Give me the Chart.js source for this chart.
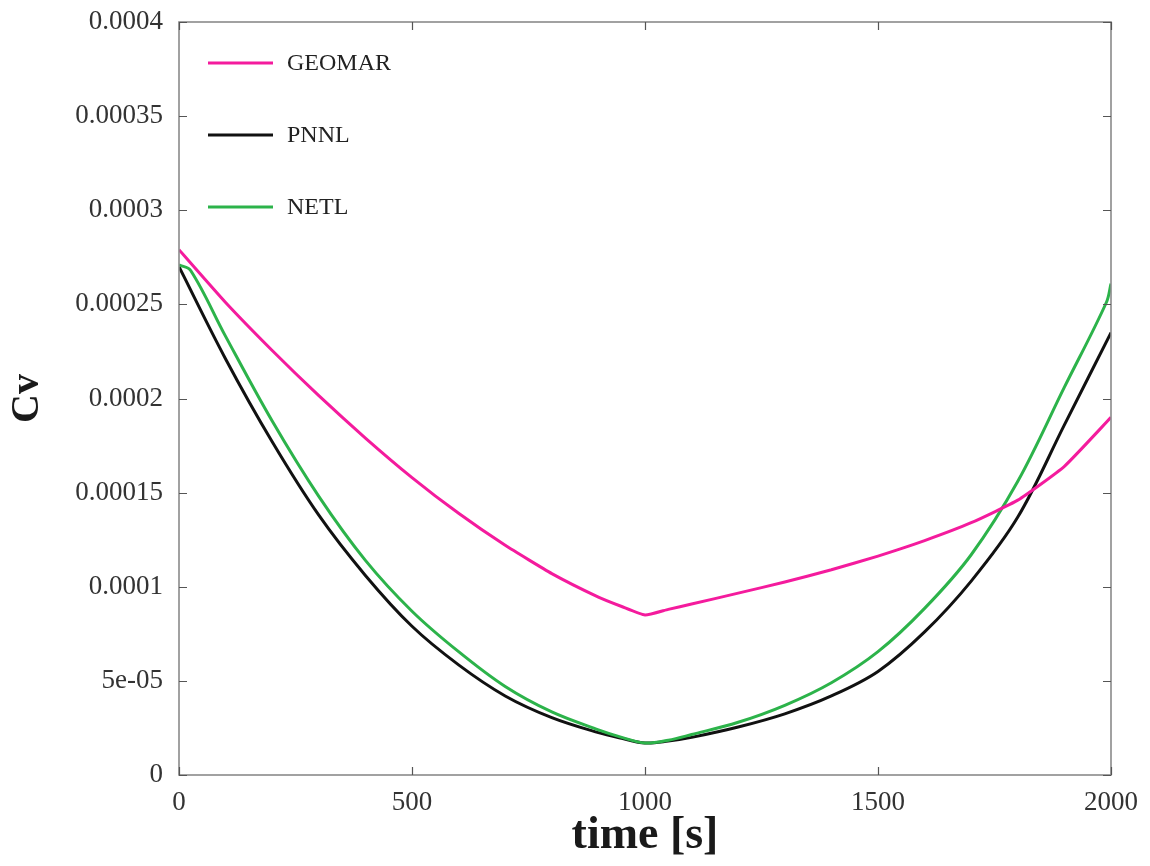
<!DOCTYPE html>
<html>
<head>
<meta charset="utf-8">
<script src="https://cdn.jsdelivr.net/npm/chart.js@4"></script>
<style>
  body { margin: 0; background: #fff; }
</style>
</head>
<body>
<canvas id="cvChart" width="1150" height="866"></canvas>
<script>
// time axis [s]
const time = [0, 100, 200, 300, 400, 500, 600, 700, 800, 900, 950, 1000, 1050, 1100, 1200, 1300, 1400, 1500, 1600, 1700, 1800, 1900, 2000];
const timeNetl = [0, 25, 100, 200, 300, 400, 500, 600, 700, 800, 900, 950, 1000, 1050, 1100, 1200, 1300, 1400, 1500, 1600, 1700, 1800, 1900, 1990, 2000];

// Cv per group
const geomar = [0.000279, 0.000251, 0.0002255, 0.0002015, 0.000179, 0.000158, 0.000139, 0.000122, 0.000107, 0.0000945, 0.0000895, 0.000085,
                0.000088, 0.0000908, 0.0000966, 0.0001025, 0.000109, 0.0001163, 0.0001245, 0.000134, 0.000146, 0.000164, 0.000190];
const pnnl = [0.000270, 0.000221, 0.000177, 0.000138, 0.000106, 0.000079, 0.0000585, 0.000042, 0.0000305, 0.0000225, 0.0000195, 0.000017,
              0.000018, 0.000020, 0.0000255, 0.0000325, 0.000042, 0.000055, 0.000076, 0.000103, 0.000137, 0.000186, 0.000235];
const netl = [0.000271, 0.000268, 0.000233, 0.000188, 0.000148, 0.000114, 0.000087, 0.0000655, 0.000047, 0.0000335, 0.000024, 0.000020, 0.000017,
              0.0000185, 0.0000215, 0.000028, 0.000037, 0.000049, 0.0000655, 0.0000885, 0.000117, 0.000156, 0.000206, 0.000251, 0.000261];

const seriesNames = ['GEOMAR', 'PNNL', 'NETL'];
const seriesColors = ['#f41b9d', '#111111', '#2cb34a'];
const yTickLabels = ['0', '5e-05', '0.0001', '0.00015', '0.0002', '0.00025', '0.0003', '0.00035', '0.0004'];

const serif = '"Liberation Serif", "DejaVu Serif", serif';

const toPoints = (xs, ys) => xs.map((t, i) => ({ x: t, y: ys[i] }));

// frame around the plot with inward ticks on all four sides
const frameTicks = {
  id: 'frameTicks',
  afterDatasetsDraw(chart) {
    const { ctx, chartArea: a, scales: { x, y } } = chart;
    ctx.save();
    ctx.strokeStyle = '#8a8a8a';
    ctx.lineWidth = 1.6;
    ctx.strokeRect(a.left, a.top, a.right - a.left, a.bottom - a.top);
    ctx.strokeStyle = '#555';
    ctx.lineWidth = 1.2;
    ctx.beginPath();
    x.ticks.forEach(t => {
      const px = Math.round(x.getPixelForValue(t.value)) + 0.5;
      ctx.moveTo(px, a.bottom); ctx.lineTo(px, a.bottom - 8);
      ctx.moveTo(px, a.top); ctx.lineTo(px, a.top + 8);
    });
    y.ticks.forEach(t => {
      const py = Math.round(y.getPixelForValue(t.value)) + 0.5;
      ctx.moveTo(a.left, py); ctx.lineTo(a.left + 8, py);
      ctx.moveTo(a.right, py); ctx.lineTo(a.right - 8, py);
    });
    ctx.stroke();
    ctx.restore();
  }
};

// legend sits inside the plot, top left
const insideLegend = {
  id: 'insideLegend',
  afterDatasetsDraw(chart) {
    const { ctx, chartArea: a } = chart;
    ctx.save();
    ctx.font = '24px ' + serif;
    ctx.textBaseline = 'middle';
    ctx.fillStyle = '#222';
    chart.data.datasets.forEach((ds, i) => {
      const yy = a.top + 41 + i * 72;
      ctx.strokeStyle = ds.borderColor;
      ctx.lineWidth = 3;
      ctx.beginPath();
      ctx.moveTo(a.left + 29, yy);
      ctx.lineTo(a.left + 94, yy);
      ctx.stroke();
      ctx.fillText(ds.label, a.left + 108, yy + 1);
    });
    ctx.restore();
  }
};

const ctx = document.getElementById('cvChart').getContext('2d');

new Chart(ctx, {
  type: 'line',
  data: {
    datasets: [
      { label: seriesNames[0], data: toPoints(time, geomar), borderColor: seriesColors[0], order: 1, tension: 0.15 },
      { label: seriesNames[1], data: toPoints(time, pnnl), borderColor: seriesColors[1], order: 3 },
      { label: seriesNames[2], data: toPoints(timeNetl, netl), borderColor: seriesColors[2], order: 2 }
    ]
  },
  options: {
    responsive: false,
    animation: false,
    layout: { padding: { left: 0, right: 39, top: 22, bottom: 0 } },
    elements: {
      point: { radius: 0 },
      line: { borderWidth: 3, tension: 0.35, fill: false }
    },
    plugins: {
      legend: { display: false },
      tooltip: { enabled: false }
    },
    scales: {
      x: {
        type: 'linear',
        min: 0,
        max: 2000,
        grid: { display: false, drawTicks: false, tickLength: 0 },
        border: { display: false },
        ticks: { stepSize: 500, color: '#333', padding: 12, maxRotation: 0, font: { family: serif, size: 27 },
                 callback: v => String(v) },
        title: { display: true, text: 'time [s]', color: '#1a1a1a', padding: { top: 0, bottom: 2 },
                 font: { family: serif, size: 46, weight: 'bold' } },
        afterFit: s => { s.height = 91; s.paddingLeft = 0; s.paddingRight = 0; }
      },
      y: {
        type: 'linear',
        min: 0,
        max: 0.0004,
        grid: { display: false, drawTicks: false, tickLength: 0 },
        border: { display: false },
        ticks: { stepSize: 0.00005, color: '#333', padding: 16, font: { family: serif, size: 27 },
                 callback: (v, i) => yTickLabels[i] },
        title: { display: true, text: 'Cv', color: '#1a1a1a', padding: { top: 4, bottom: 0 },
                 font: { family: serif, size: 40, weight: 'bold' } },
        afterFit: s => { s.width = 179; s.paddingTop = 0; s.paddingBottom = 0; }
      }
    }
  },
  plugins: [frameTicks, insideLegend]
});
</script>
</body>
</html>
